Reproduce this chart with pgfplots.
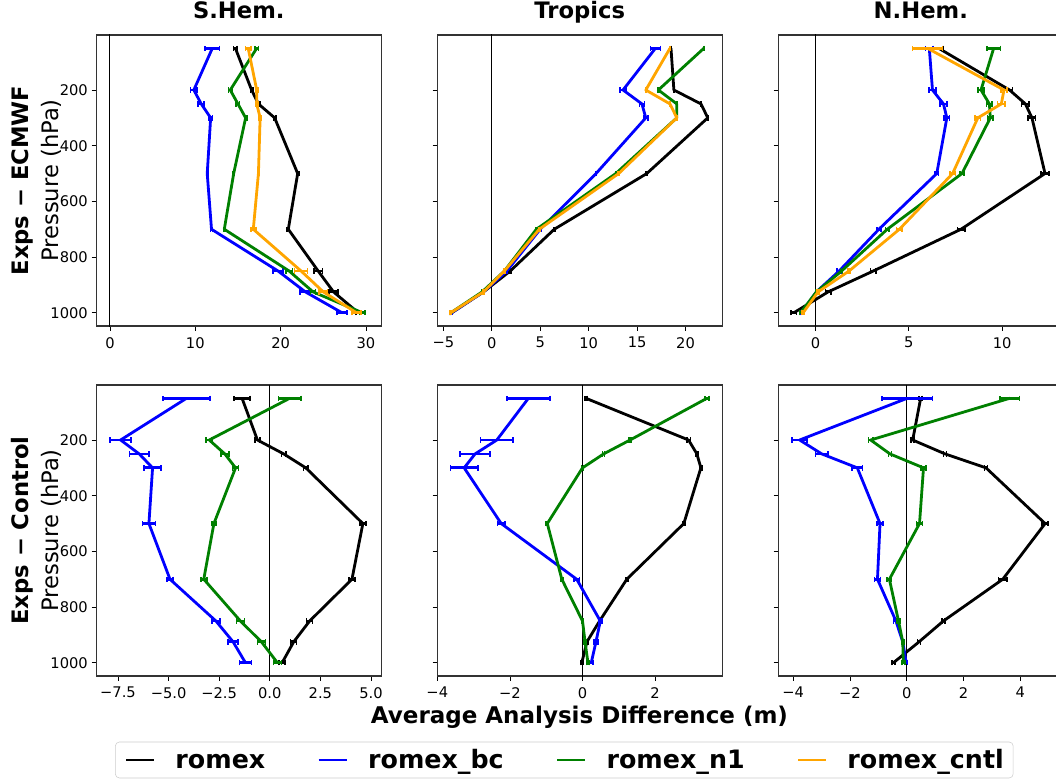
\documentclass[border=0pt]{standalone}
\usepackage{fontspec}
\setmainfont{DejaVu Sans}
\usepackage{pgfplots}
\pgfplotsset{compat=1.18}
\definecolor{mplorange}{HTML}{FFA500}
\definecolor{mplgreen}{HTML}{008000}
\definecolor{mplblue}{HTML}{0000FF}
\pgfplotsset{
  panel/.style={
    scale only axis, width=213.75pt, height=218.25pt,
    y dir=reverse, ymin=2.5, ymax=1047.5,
    ytick={200,400,600,800,1000}, yticklabels={},
    tick align=outside, xtick pos=left, ytick pos=left, major tick length=3.5pt,
    tick style={black, line width=0.6pt},
    axis line style={line width=0.8pt, black!80},
    /pgf/number format/assume math mode=true,
    tick label style={font=\fontsize{11}{13}\selectfont},
    xticklabel style={inner sep=0pt, yshift=-4.75pt},
    yticklabel style={inner sep=0pt, xshift=-2.7pt},
    title style={font=\fontsize{17}{20}\selectfont\bfseries, at={(0.5,1)}, anchor=base, yshift=6.2pt},
  },
  ser/.style={line width=2.1pt, line join=round, forget plot, mark=none,
    error bars/.cd, x dir=both, x explicit, error mark=|,
    error bar style={line width=2.1pt, solid},
    error mark options={line width=1.2pt, mark size=2pt}},
  zl/.style={black, line width=0.75pt, forget plot},
}
\begin{document}
\begin{tikzpicture}
% ---------------- Row 1: Exps - ECMWF ----------------
\begin{axis}[panel, at={(72.225pt,342.75pt)}, anchor=south west, title={S.Hem.},
  xmin=-1.6, xmax=31.8, xtick={0,10,20,30}, xticklabels={0,10,20,30},
  yticklabels={200,400,600,800,1000}]
\addplot[zl] coordinates {(0,0) (0,1050)};
\addplot[black, ser] table[x=x, y=p, x error=e, row sep=\\]{
p x e\\ 50 14.7 0.2\\ 200 16.6 0.15\\ 250 17.4 0.15\\ 300 19.3 0.15\\ 500 22.0 0.15\\ 700 20.9 0.15\\ 850 24.4 0.5\\ 925 26.2 0.5\\ 1000 29.1 0.3\\};
\addplot[mplblue, ser] table[x=x, y=p, x error=e, row sep=\\]{
p x e\\ 50 12.0 0.85\\ 200 9.83 0.4\\ 250 10.7 0.35\\ 300 11.8 0.2\\ 500 11.4 0.1\\ 700 11.9 0.1\\ 850 19.7 0.6\\ 925 22.9 0.6\\ 1000 27.2 0.6\\};
\addplot[mplgreen, ser] table[x=x, y=p, x error=e, row sep=\\]{
p x e\\ 50 17.2 0.2\\ 200 14.1 0.2\\ 250 15.0 0.2\\ 300 15.9 0.15\\ 500 14.5 0.1\\ 700 13.4 0.1\\ 850 21.0 0.4\\ 925 23.8 0.3\\ 1000 29.6 0.3\\};
\addplot[mplorange, ser] table[x=x, y=p, x error=e, row sep=\\]{
p x e\\ 50 16.2 0.3\\ 200 17.2 0.15\\ 250 17.2 0.15\\ 300 17.6 0.1\\ 500 17.4 0.1\\ 700 16.8 0.3\\ 850 22.4 0.75\\ 925 25.0 0.5\\ 1000 28.9 0.5\\};
\end{axis}

\begin{axis}[panel, at={(327.975pt,342.75pt)}, anchor=south west, title={Tropics},
  xmin=-5.63, xmax=23.8, xtick={-5,0,5,10,15,20}, xticklabels={−5,0,5,10,15,20}]
\addplot[zl] coordinates {(0,0) (0,1050)};
\addplot[black, ser] table[x=x, y=p, x error=e, row sep=\\]{
p x e\\ 50 18.5 0.05\\ 200 18.8 0.05\\ 250 21.6 0.05\\ 300 22.3 0.05\\ 500 16.0 0.05\\ 700 6.45 0.05\\ 850 1.9 0.05\\ 925 -0.86 0.05\\ 1000 -4.14 0.05\\};
\addplot[mplblue, ser] table[x=x, y=p, x error=e, row sep=\\]{
p x e\\ 50 16.9 0.5\\ 200 13.55 0.3\\ 250 15.5 0.25\\ 300 15.9 0.25\\ 500 10.76 0.05\\ 700 5.0 0.05\\ 850 1.55 0.05\\ 925 -0.86 0.05\\ 1000 -4.14 0.05\\};
\addplot[mplgreen, ser] table[x=x, y=p, x error=e, row sep=\\]{
p x e\\ 50 21.9 0.05\\ 200 17.2 0.05\\ 250 19.1 0.05\\ 300 19.1 0.05\\ 500 12.8 0.05\\ 700 4.6 0.05\\ 850 1.3 0.05\\ 925 -1.0 0.05\\ 1000 -4.24 0.05\\};
\addplot[mplorange, ser] table[x=x, y=p, x error=e, row sep=\\]{
p x e\\ 50 18.4 0.05\\ 200 15.9 0.05\\ 250 18.4 0.05\\ 300 19.1 0.05\\ 500 13.1 0.05\\ 700 4.9 0.05\\ 850 1.3 0.05\\ 925 -0.86 0.05\\ 1000 -4.24 0.05\\};
\end{axis}

\begin{axis}[panel, at={(583.725pt,342.75pt)}, anchor=south west, title={N.Hem.},
  xmin=-1.99, xmax=13.28, xtick={0,5,10}, xticklabels={0,5,10}]
\addplot[zl] coordinates {(0,0) (0,1050)};
\addplot[black, ser] table[x=x, y=p, x error=e, row sep=\\]{
p x e\\ 50 6.6 0.27\\ 200 10.4 0.15\\ 250 11.25 0.2\\ 300 11.6 0.2\\ 500 12.3 0.2\\ 700 7.8 0.2\\ 850 3.1 0.15\\ 925 0.68 0.15\\ 1000 -1.16 0.15\\};
\addplot[mplblue, ser] table[x=x, y=p, x error=e, row sep=\\]{
p x e\\ 50 6.1 0.2\\ 200 6.27 0.2\\ 250 6.86 0.2\\ 300 7.04 0.15\\ 500 6.5 0.1\\ 700 3.4 0.1\\ 850 1.27 0.1\\ 925 0.05 0.05\\ 1000 -0.75 0.05\\};
\addplot[mplgreen, ser] table[x=x, y=p, x error=e, row sep=\\]{
p x e\\ 50 9.55 0.36\\ 200 8.87 0.15\\ 250 9.32 0.15\\ 300 9.37 0.15\\ 500 7.85 0.1\\ 700 3.85 0.1\\ 850 1.4 0.05\\ 925 0.05 0.05\\ 1000 -0.8 0.05\\};
\addplot[mplorange, ser] table[x=x, y=p, x error=e, row sep=\\]{
p x e\\ 50 6.0 0.8\\ 200 10.1 0.15\\ 250 9.96 0.2\\ 300 8.7 0.15\\ 500 7.35 0.15\\ 700 4.5 0.15\\ 850 1.8 0.05\\ 925 0.14 0.05\\ 1000 -0.66 0.05\\};
\end{axis}

% ---------------- Row 2: Exps - Control ----------------
\begin{axis}[panel, at={(72.225pt,80.25pt)}, anchor=south west,
  xmin=-8.57, xmax=5.51, xtick={-7.5,-5,-2.5,0,2.5,5}, xticklabels={−7.5,−5.0,−2.5,0.0,2.5,5.0},
  yticklabels={200,400,600,800,1000}]
\addplot[zl] coordinates {(0,0) (0,1050)};
\addplot[black, ser] table[x=x, y=p, x error=e, row sep=\\]{
p x e\\ 50 -1.37 0.4\\ 200 -0.61 0.12\\ 250 0.69 0.12\\ 300 1.78 0.12\\ 500 4.6 0.15\\ 700 4.06 0.15\\ 850 1.97 0.15\\ 925 1.18 0.15\\ 1000 0.61 0.15\\};
\addplot[mplblue, ser] table[x=x, y=p, x error=e, row sep=\\]{
p x e\\ 50 -4.11 1.15\\ 200 -7.37 0.51\\ 250 -6.45 0.48\\ 300 -5.79 0.43\\ 500 -5.97 0.32\\ 700 -4.93 0.15\\ 850 -2.66 0.2\\ 925 -1.81 0.25\\ 1000 -1.2 0.29\\};
\addplot[mplgreen, ser] table[x=x, y=p, x error=e, row sep=\\]{
p x e\\ 50 0.99 0.55\\ 200 -2.99 0.15\\ 250 -2.22 0.2\\ 300 -1.69 0.15\\ 500 -2.76 0.1\\ 700 -3.26 0.15\\ 850 -1.45 0.2\\ 925 -0.41 0.2\\ 1000 0.38 0.2\\};
\end{axis}

\begin{axis}[panel, at={(327.975pt,80.25pt)}, anchor=south west,
  xmin=-4.0, xmax=3.85, xtick={-4,-2,0,2}, xticklabels={−4,−2,0,2},
  legend columns=4,
  legend image code/.code={\draw[#1, line width=2.1pt] (0pt,0pt) -- (21pt,0pt);},
  legend style={at={(0.4455,-0.2258)}, anchor=north, draw=black!20, rounded corners=3pt, fill=white,
    font=\fontsize{19}{23}\selectfont\bfseries, inner xsep=7pt, inner ysep=7pt,
    nodes={inner sep=0pt, text height=13pt, text depth=0pt}, column sep=15pt,
    /tikz/every even column/.append style={column sep=39pt}}]
\addplot[zl] coordinates {(0,0) (0,1050)};
\addplot[black, ser] table[x=x, y=p, x error=e, row sep=\\]{
p x e\\ 50 0.09 0.03\\ 200 2.92 0.05\\ 250 3.15 0.03\\ 300 3.26 0.03\\ 500 2.79 0.03\\ 700 1.22 0.03\\ 850 0.47 0.03\\ 925 0.12 0.03\\ 1000 -0.02 0.03\\};
\addplot[mplblue, ser] table[x=x, y=p, x error=e, row sep=\\]{
p x e\\ 50 -1.49 0.59\\ 200 -2.36 0.45\\ 250 -2.96 0.41\\ 300 -3.26 0.38\\ 500 -2.24 0.1\\ 700 -0.16 0.08\\ 850 0.49 0.05\\ 925 0.37 0.05\\ 1000 0.24 0.05\\};
\addplot[mplgreen, ser] table[x=x, y=p, x error=e, row sep=\\]{
p x e\\ 50 3.43 0.05\\ 200 1.31 0.03\\ 250 0.58 0.03\\ 300 0.0 0.03\\ 500 -0.97 0.03\\ 700 -0.57 0.03\\ 850 0.0 0.03\\ 925 0.07 0.03\\ 1000 0.15 0.03\\};
\addlegendimage{black}\addlegendentry{romex}
\addlegendimage{mplblue}\addlegendentry{romex\_bc}
\addlegendimage{mplgreen}\addlegendentry{romex\_n1}
\addlegendimage{mplorange}\addlegendentry{romex\_cntl}
\end{axis}

\begin{axis}[panel, at={(583.725pt,80.25pt)}, anchor=south west,
  xmin=-4.52, xmax=5.51, xtick={-4,-2,0,2,4}, xticklabels={−4,−2,0,2,4}]
\addplot[zl] coordinates {(0,0) (0,1050)};
\addplot[black, ser] table[x=x, y=p, x error=e, row sep=\\]{
p x e\\ 50 0.49 0.05\\ 200 0.21 0.05\\ 250 1.35 0.05\\ 300 2.79 0.05\\ 500 4.87 0.1\\ 700 3.38 0.15\\ 850 1.29 0.05\\ 925 0.43 0.05\\ 1000 -0.47 0.05\\};
\addplot[mplblue, ser] table[x=x, y=p, x error=e, row sep=\\]{
p x e\\ 50 0.02 0.89\\ 200 -3.77 0.26\\ 250 -2.99 0.22\\ 300 -1.74 0.18\\ 500 -0.94 0.1\\ 700 -1.03 0.1\\ 850 -0.38 0.08\\ 925 -0.14 0.05\\ 1000 -0.02 0.05\\};
\addplot[mplgreen, ser] table[x=x, y=p, x error=e, row sep=\\]{
p x e\\ 50 3.63 0.34\\ 200 -1.27 0.08\\ 250 -0.59 0.05\\ 300 0.59 0.08\\ 500 0.45 0.1\\ 700 -0.61 0.08\\ 850 -0.29 0.05\\ 925 -0.14 0.05\\ 1000 -0.12 0.05\\};
\end{axis}

% ---------------- labels ----------------
\node[rotate=90, anchor=base, font=\fontsize{17}{20}\selectfont\bfseries] at (21.2pt,451.9pt) {Exps − ECMWF};
\node[rotate=90, anchor=base, font=\fontsize{17}{20}\selectfont] at (43.7pt,451.9pt) {Pressure (hPa)};
\node[rotate=90, anchor=base, font=\fontsize{17}{20}\selectfont\bfseries] at (21.2pt,189.4pt) {Exps − Control};
\node[rotate=90, anchor=base, font=\fontsize{17}{20}\selectfont] at (43.7pt,189.4pt) {Pressure (hPa)};
\node[anchor=base, font=\fontsize{17.25}{20}\selectfont\bfseries] at (434.6pt,44.8pt) {Average Analysis Difference (m)};
\pgfresetboundingbox
\useasboundingbox (0pt,0pt) rectangle (792pt,587.25pt);
\end{tikzpicture}
\end{document}
